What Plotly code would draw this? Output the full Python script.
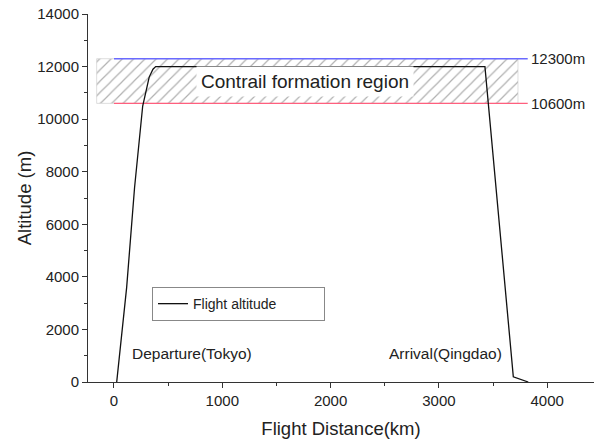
import plotly.graph_objects as go

# Flight profile Tokyo -> Qingdao
distance_km = [25, 117, 190, 265, 325, 360, 385, 3425, 3687, 3825]
altitude_m = [0, 3600, 7400, 10500, 11600, 11900, 12000, 12000, 200, 0]

# Contrail formation band
band_low = 10600
band_high = 12300
band_x = [-160, 3730]
level_x = [0, 3820]

x_ticks = [0, 1000, 2000, 3000, 4000]
y_ticks = [0, 2000, 4000, 6000, 8000, 10000, 12000, 14000]

FONT = "Liberation Sans, Arial, sans-serif"
TXT = "#222222"

fig = go.Figure()

# hatched band
fig.add_trace(go.Scatter(
    x=[band_x[0], band_x[1], band_x[1], band_x[0], band_x[0]],
    y=[band_low, band_low, band_high, band_high, band_low],
    fill="toself",
    fillcolor="rgba(0,0,0,0)",
    fillpattern=dict(shape="/", fgcolor="#626262", bgcolor="rgba(255,255,255,0)",
                     size=8, solidity=0.15),
    line=dict(color="#c8c8c8", width=0.6),
    mode="lines", showlegend=False, hoverinfo="skip"))

# band limits
fig.add_trace(go.Scatter(x=level_x, y=[band_high, band_high], mode="lines",
                         line=dict(color="#6a6aff", width=1.4),
                         showlegend=False, hoverinfo="skip"))
fig.add_trace(go.Scatter(x=level_x, y=[band_low, band_low], mode="lines",
                         line=dict(color="#ff5f7e", width=1.4),
                         showlegend=False, hoverinfo="skip"))

# flight altitude
fig.add_trace(go.Scatter(x=distance_km, y=altitude_m, mode="lines",
                         name="Flight altitude",
                         line=dict(color="#111111", width=1.3)))

fig.add_annotation(x=level_x[1], y=band_high, text="12300m", showarrow=False,
                   xanchor="left", yanchor="middle", xshift=1,
                   font=dict(family=FONT, size=15, color=TXT))
fig.add_annotation(x=level_x[1], y=band_low, text="10600m", showarrow=False,
                   xanchor="left", yanchor="middle", xshift=1,
                   font=dict(family=FONT, size=15, color=TXT))
fig.add_annotation(x=1764, y=(band_low + band_high) / 2,
                   text="Contrail formation region", showarrow=False,
                   bgcolor="white", borderpad=4,
                   font=dict(family=FONT, size=19, color=TXT))
fig.add_annotation(x=150, y=1100, text="Departure(Tokyo)", showarrow=False,
                   xanchor="left", yanchor="middle",
                   font=dict(family=FONT, size=15.5, color=TXT))
fig.add_annotation(x=3600, y=1100, text="Arrival(Qingdao)", showarrow=False,
                   xanchor="right", yanchor="middle",
                   font=dict(family=FONT, size=15.5, color=TXT))

axis_common = dict(
    showline=True, linecolor="#333333", linewidth=1,
    ticks="outside", ticklen=5, tickcolor="#333333", tickwidth=1,
    showgrid=False, zeroline=False, tickformat="d",
    tickfont=dict(family=FONT, size=15, color=TXT),
)

fig.update_xaxes(
    range=[-240, 4432], tickvals=x_ticks,
    title=dict(text="Flight Distance(km)", font=dict(family=FONT, size=18.5, color=TXT),
               standoff=14),
    minor=dict(dtick=500, tick0=0, ticks="outside", ticklen=3, tickcolor="#333333"),
    **axis_common)
fig.update_yaxes(
    range=[0, 14000], tickvals=y_ticks,
    title=dict(text="Altitude (m)", font=dict(family=FONT, size=18.5, color=TXT),
               standoff=0),
    minor=dict(dtick=1000, tick0=0, ticks="outside", ticklen=3, tickcolor="#333333"),
    **axis_common)

fig.update_layout(
    width=594, height=442,
    margin=dict(l=88, r=0, t=14, b=60),
    plot_bgcolor="white", paper_bgcolor="white",
    showlegend=True,
    legend=dict(x=0.1265, y=0.258, xanchor="left", yanchor="top",
                orientation="h",
                bgcolor="white", bordercolor="#888888", borderwidth=1,
                entrywidth=126, entrywidthmode="pixels",
                font=dict(family=FONT, size=14, color=TXT),
                tracegroupgap=0, itemwidth=30),
)

fig.write_html("out.html")
